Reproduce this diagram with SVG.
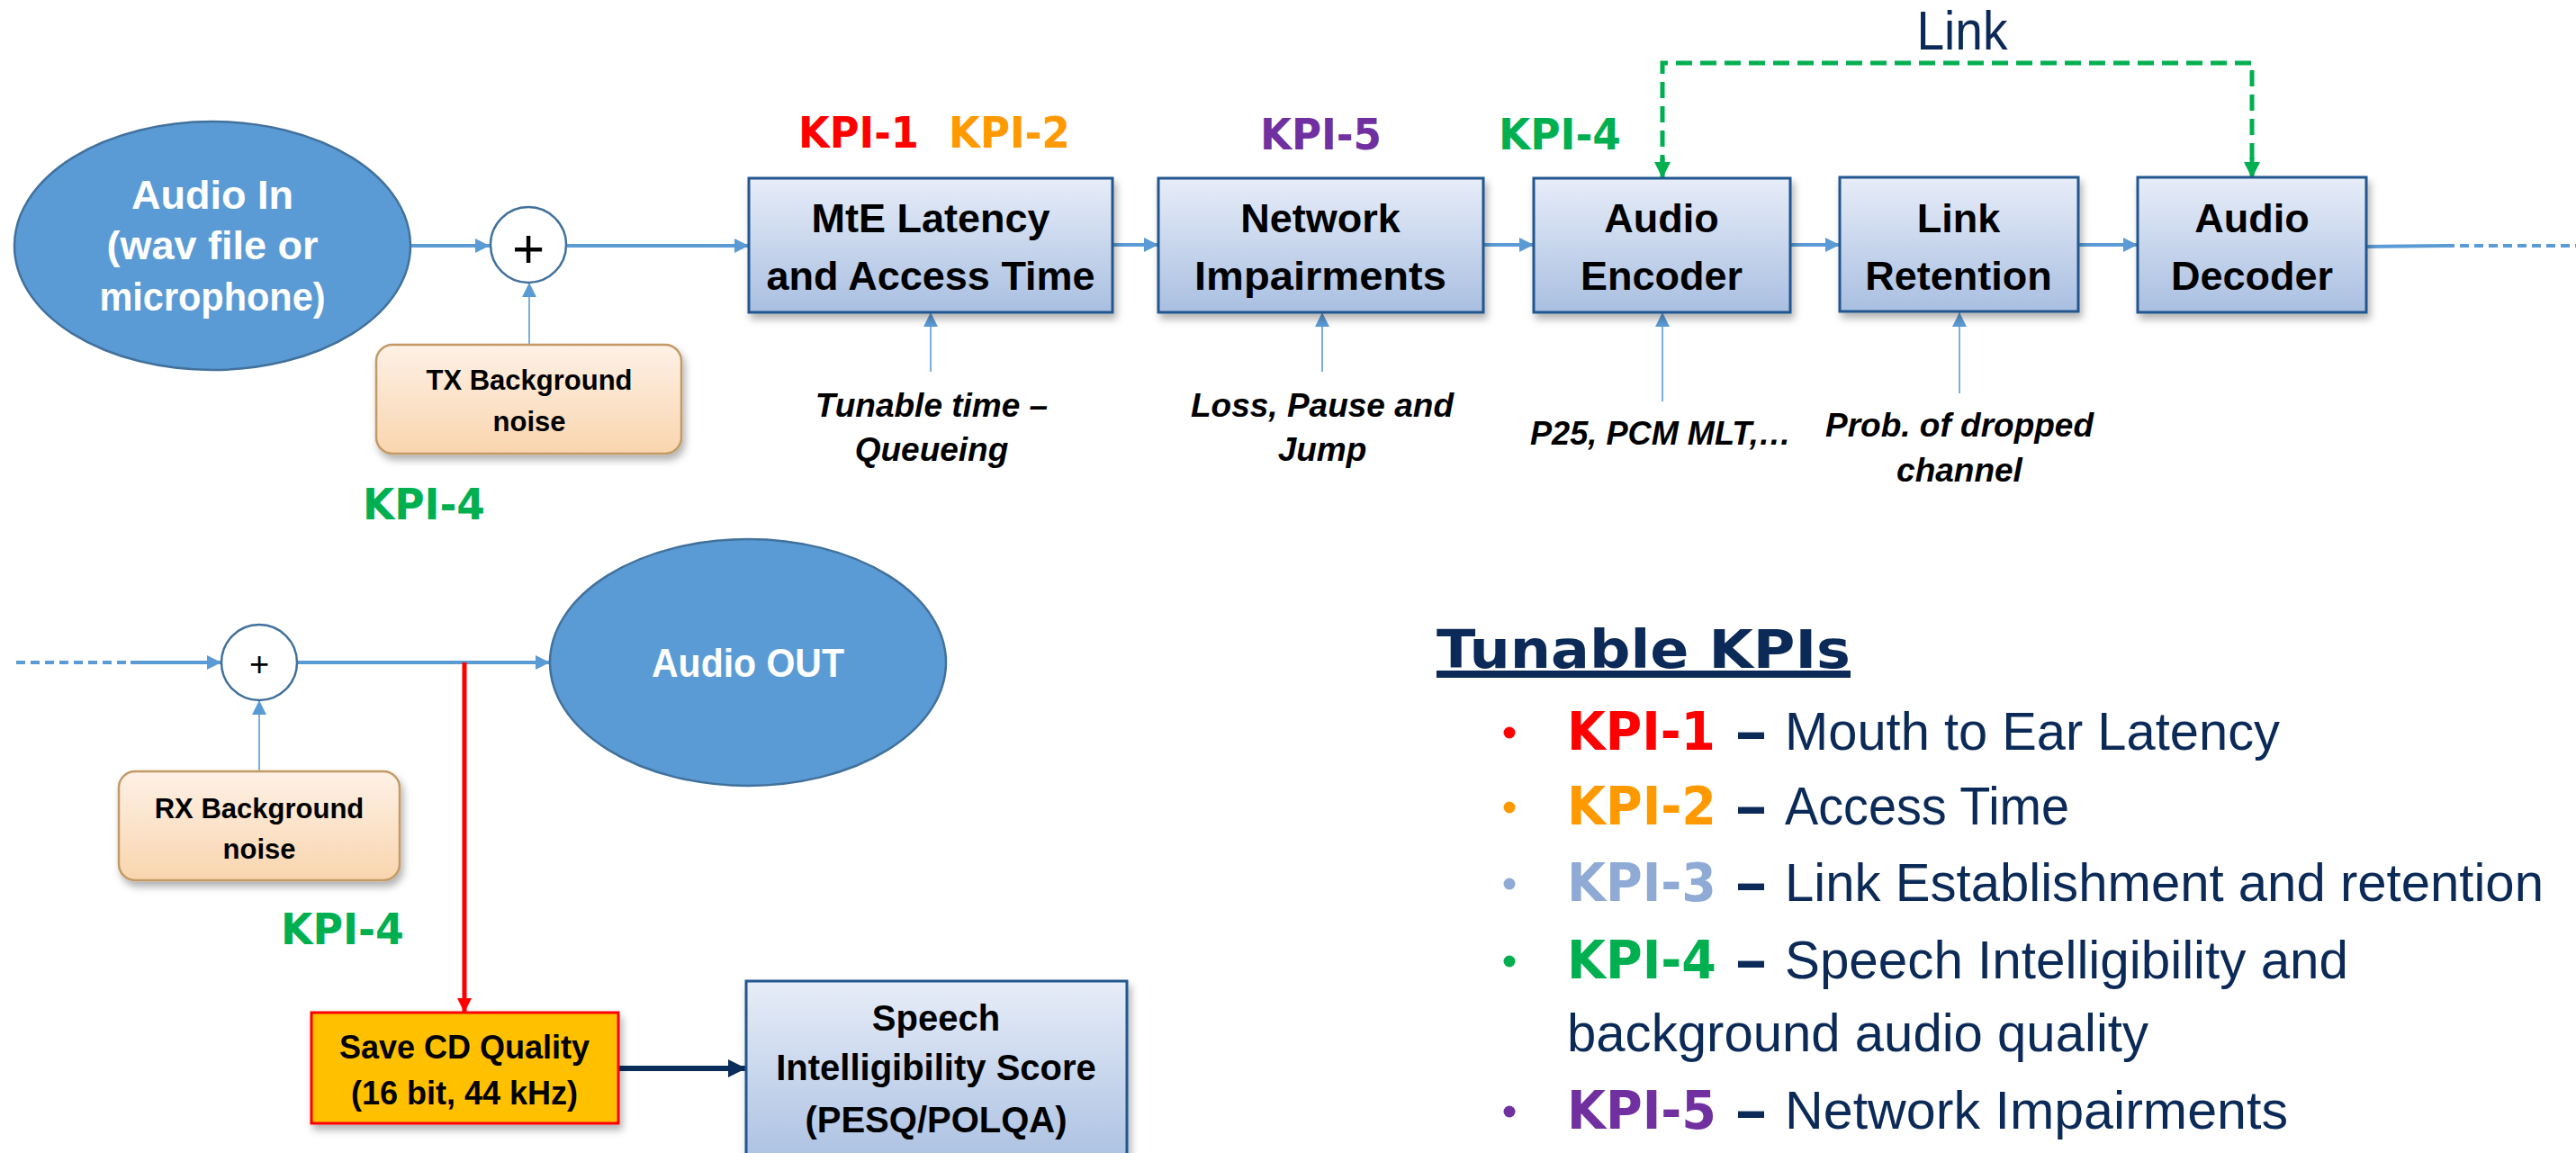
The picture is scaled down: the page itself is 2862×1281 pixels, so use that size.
<svg xmlns="http://www.w3.org/2000/svg" width="2862" height="1281" viewBox="0 0 2862 1281">
<defs>
<style>
.cal{font-family:"Liberation Sans",Arial,sans-serif;font-weight:bold;fill:#000;text-anchor:middle}
.lbl{font-size:45px}
.it{font-family:"Liberation Sans",Arial,sans-serif;font-weight:bold;font-style:italic;font-size:37px;fill:#000;text-anchor:middle}
.wh{fill:#fff}
.kpi{font-family:"DejaVu Sans",Verdana,sans-serif;font-weight:bold;font-size:48px}
.kpil{font-family:"DejaVu Sans",Verdana,sans-serif;font-weight:bold;font-size:58px}
.reg{font-family:"Liberation Sans",Arial,sans-serif;font-size:59px;fill:#0b2a57}
.box{fill:url(#gBlue);stroke:#24568f;stroke-width:3;filter:url(#sh)}
.peach{fill:url(#gPeach);stroke:#c39a66;stroke-width:2.5;filter:url(#sh)}
.ell{fill:#5b9bd5;stroke:#41719c;stroke-width:2.5}
.sum{fill:#fff;stroke:#41719c;stroke-width:2.5}
.flow{stroke:#5b9bd5;stroke-width:4;fill:none}
.thin{stroke:#5b9bd5;stroke-width:1.6;fill:none}
.c1{fill:#ff0000}.c2{fill:#ff9900}.c3{fill:#8eaad5}.c4{fill:#00b050}.c5{fill:#7030a0}
</style>
<linearGradient id="gBlue" x1="0" y1="0" x2="0" y2="1">
<stop offset="0" stop-color="#e7edf8"/><stop offset="1" stop-color="#a9bfe1"/>
</linearGradient>
<linearGradient id="gPeach" x1="0" y1="0" x2="0" y2="1">
<stop offset="0" stop-color="#fef1e6"/><stop offset="1" stop-color="#f9d5ae"/>
</linearGradient>
<filter id="sh" x="-10%" y="-10%" width="130%" height="140%">
<feDropShadow dx="3" dy="6" stdDeviation="4" flood-color="#000" flood-opacity="0.3"/>
</filter>
<marker id="aBl" viewBox="0 0 10 10" refX="10" refY="5" markerWidth="18" markerHeight="16" markerUnits="userSpaceOnUse" orient="auto">
<path d="M0,0 L10,5 L0,10 z" fill="#5b9bd5"/>
</marker>
<marker id="aG" viewBox="0 0 10 10" refX="10" refY="5" markerWidth="22" markerHeight="18" markerUnits="userSpaceOnUse" orient="auto">
<path d="M0,0 L10,5 L0,10 z" fill="#00b050"/>
</marker>
<marker id="aR" viewBox="0 0 10 10" refX="10" refY="5" markerWidth="20" markerHeight="16" markerUnits="userSpaceOnUse" orient="auto">
<path d="M0,0 L10,5 L0,10 z" fill="#ff0000"/>
</marker>
<marker id="aN" viewBox="0 0 10 10" refX="10" refY="5" markerWidth="20" markerHeight="22" markerUnits="userSpaceOnUse" orient="auto">
<path d="M0,0 L10,5 L0,10 z" fill="#0b2d5a"/>
</marker>
</defs>
<rect width="2862" height="1281" fill="#fff"/>

<g id="connectors">
<line class="flow" x1="456" y1="273" x2="544" y2="273" marker-end="url(#aBl)"/>
<line class="flow" x1="630" y1="273" x2="832" y2="273" stroke-width="3" marker-end="url(#aBl)"/>
<line class="flow" x1="1236" y1="272" x2="1287" y2="272" marker-end="url(#aBl)"/>
<line class="flow" x1="1648" y1="272" x2="1704" y2="272" marker-end="url(#aBl)"/>
<line class="flow" x1="1989" y1="272" x2="2044" y2="272" marker-end="url(#aBl)"/>
<line class="flow" x1="2309" y1="272" x2="2375" y2="272" marker-end="url(#aBl)"/>
<path class="flow" d="M2629,274 L2717,273"/>
<line class="flow" x1="2717" y1="273" x2="2862" y2="273" stroke-dasharray="10,6"/>
<line class="thin" x1="588" y1="383" x2="588" y2="314" marker-end="url(#aBl)"/>
<line class="thin" x1="1034" y1="413" x2="1034" y2="347" marker-end="url(#aBl)"/>
<line class="thin" x1="1469" y1="413" x2="1469" y2="347" marker-end="url(#aBl)"/>
<line class="thin" x1="1847" y1="446" x2="1847" y2="347" marker-end="url(#aBl)"/>
<line class="thin" x1="2177" y1="437" x2="2177" y2="347" marker-end="url(#aBl)"/>
<path d="M1847,190 L1847,70 L2502,70 L2502,190" fill="none" stroke="#00b050" stroke-width="5" stroke-dasharray="18,9"/>
<line x1="1847" y1="175" x2="1847" y2="198" stroke="#00b050" stroke-width="5" marker-end="url(#aG)"/>
<line x1="2502" y1="175" x2="2502" y2="198" stroke="#00b050" stroke-width="5" marker-end="url(#aG)"/>
<line class="flow" x1="18" y1="736" x2="145" y2="736" stroke-dasharray="10,6"/>
<line class="flow" x1="145" y1="736" x2="246" y2="736" marker-end="url(#aBl)"/>
<line class="flow" x1="330" y1="736" x2="611" y2="736" stroke-width="3" marker-end="url(#aBl)"/>
<line class="thin" x1="288" y1="857" x2="288" y2="778" marker-end="url(#aBl)"/>
<line x1="516" y1="736" x2="516" y2="1125" stroke="#ff0000" stroke-width="5" marker-end="url(#aR)"/>
<line x1="687" y1="1187" x2="829" y2="1187" stroke="#0b2d5a" stroke-width="6" marker-end="url(#aN)"/>
</g>

<g id="audio-in">
<ellipse class="ell" cx="236" cy="273" rx="220" ry="138"/>
<text class="cal wh lbl" x="236" y="232">Audio In</text>
<text class="cal wh lbl" x="236" y="288">(wav file or</text>
<text class="cal wh lbl" x="236" y="345" textLength="251" lengthAdjust="spacingAndGlyphs">microphone)</text>
</g>
<g id="sum-tx">
<circle class="sum" cx="587" cy="272" r="42"/>
<text x="587" y="297" font-family="Liberation Sans,Arial,sans-serif" font-size="62" text-anchor="middle" fill="#000">+</text>
</g>
<g id="tx-noise">
<rect class="peach" x="418" y="383" width="339" height="121" rx="18"/>
<text class="cal" x="588" y="433" font-size="31">TX Background</text>
<text class="cal" x="588" y="479" font-size="31">noise</text>
</g>
<g id="kpi4-tx"><text class="kpi c4" x="403" y="577" textLength="136" lengthAdjust="spacingAndGlyphs">KPI-4</text></g>

<g id="kpi-top">
<text class="kpi c1" x="887" y="164" textLength="134" lengthAdjust="spacingAndGlyphs">KPI-1</text>
<text class="kpi c2" x="1054" y="164" textLength="135" lengthAdjust="spacingAndGlyphs">KPI-2</text>
<text class="kpi c5" x="1400" y="166" textLength="135" lengthAdjust="spacingAndGlyphs">KPI-5</text>
<text class="kpi c4" x="1665" y="166" textLength="136" lengthAdjust="spacingAndGlyphs">KPI-4</text>
</g>

<g id="mte">
<rect class="box" x="832" y="198" width="404" height="149"/>
<text class="cal lbl" x="1034" y="258">MtE Latency</text>
<text class="cal lbl" x="1034" y="322">and Access Time</text>
</g>
<g id="network">
<rect class="box" x="1287" y="198" width="361" height="149"/>
<text class="cal lbl" x="1467" y="258">Network</text>
<text class="cal lbl" x="1467" y="322" textLength="280" lengthAdjust="spacingAndGlyphs">Impairments</text>
</g>
<g id="encoder">
<rect class="box" x="1704" y="198" width="285" height="149"/>
<text class="cal lbl" x="1846" y="258">Audio</text>
<text class="cal lbl" x="1846" y="322">Encoder</text>
</g>
<g id="retention">
<rect class="box" x="2044" y="197" width="265" height="149"/>
<text class="cal lbl" x="2176" y="258">Link</text>
<text class="cal lbl" x="2176" y="322">Retention</text>
</g>
<g id="decoder">
<rect class="box" x="2375" y="197" width="254" height="150"/>
<text class="cal lbl" x="2502" y="258">Audio</text>
<text class="cal lbl" x="2502" y="322">Decoder</text>
</g>
<g id="link-title"><text x="2180" y="55" font-family="Liberation Sans,Arial,sans-serif" font-size="61" fill="#0b2a57" text-anchor="middle" textLength="101" lengthAdjust="spacingAndGlyphs">Link</text></g>

<g id="notes">
<text class="it" x="1035" y="463">Tunable time –</text>
<text class="it" x="1035" y="512">Queueing</text>
<text class="it" x="1469" y="463">Loss, Pause and</text>
<text class="it" x="1469" y="512">Jump</text>
<text class="it" x="1845" y="494" textLength="290" lengthAdjust="spacingAndGlyphs">P25, PCM MLT,…</text>
<text class="it" x="2177" y="485">Prob. of dropped</text>
<text class="it" x="2177" y="535">channel</text>
</g>

<g id="sum-rx">
<circle class="sum" cx="288" cy="736" r="42"/>
<text x="288" y="751" font-family="Liberation Sans,Arial,sans-serif" font-size="38" text-anchor="middle" fill="#000">+</text>
</g>
<g id="audio-out">
<ellipse class="ell" cx="831" cy="736" rx="220" ry="137"/>
<text class="cal wh lbl" x="831" y="752" textLength="214" lengthAdjust="spacingAndGlyphs">Audio OUT</text>
</g>
<g id="rx-noise">
<rect class="peach" x="132" y="857" width="312" height="121" rx="18"/>
<text class="cal" x="288" y="909" font-size="31">RX Background</text>
<text class="cal" x="288" y="954" font-size="31">noise</text>
</g>
<g id="kpi4-rx"><text class="kpi c4" x="312" y="1049" textLength="137" lengthAdjust="spacingAndGlyphs">KPI-4</text></g>
<g id="save-cd">
<rect x="346" y="1125" width="341" height="123" fill="#ffc000" stroke="#ff0000" stroke-width="3" filter="url(#sh)"/>
<text class="cal" x="516" y="1176" font-size="36">Save CD Quality</text>
<text class="cal" x="516" y="1227" font-size="36">(16 bit, 44 kHz)</text>
</g>
<g id="speech">
<rect class="box" x="829" y="1090" width="423" height="210"/>
<text class="cal" x="1040" y="1145" font-size="40">Speech</text>
<text class="cal" x="1040" y="1200" font-size="40">Intelligibility Score</text>
<text class="cal" x="1040" y="1258" font-size="40">(PESQ/POLQA)</text>
</g>

<g id="legend">
<text class="kpil" x="1596" y="742" fill="#0b2a57" font-size="74" textLength="460" lengthAdjust="spacingAndGlyphs">Tunable KPIs</text>
<rect x="1596" y="745" width="460" height="8" fill="#0b2a57"/>
<circle cx="1677" cy="814" r="6.5" class="c1"/>
<text class="kpil c1" x="1741" y="833" textLength="165" lengthAdjust="spacingAndGlyphs">KPI-1</text>
<text class="kpil" x="1927" y="833" fill="#0b2a57" textLength="37" lengthAdjust="spacingAndGlyphs">–</text>
<text class="reg" x="1983" y="833" textLength="550" lengthAdjust="spacingAndGlyphs">Mouth to Ear Latency</text>
<circle cx="1677" cy="897" r="6.5" class="c2"/>
<text class="kpil c2" x="1741" y="916" textLength="166" lengthAdjust="spacingAndGlyphs">KPI-2</text>
<text class="kpil" x="1927" y="916" fill="#0b2a57" textLength="37" lengthAdjust="spacingAndGlyphs">–</text>
<text class="reg" x="1983" y="916" textLength="316" lengthAdjust="spacingAndGlyphs">Access Time</text>
<circle cx="1677" cy="982" r="6.5" class="c3"/>
<text class="kpil c3" x="1741" y="1001" textLength="166" lengthAdjust="spacingAndGlyphs">KPI-3</text>
<text class="kpil" x="1927" y="1001" fill="#0b2a57" textLength="37" lengthAdjust="spacingAndGlyphs">–</text>
<text class="reg" x="1983" y="1001" textLength="843" lengthAdjust="spacingAndGlyphs">Link Establishment and retention</text>
<circle cx="1677" cy="1068" r="6.5" class="c4"/>
<text class="kpil c4" x="1741" y="1087" textLength="166" lengthAdjust="spacingAndGlyphs">KPI-4</text>
<text class="kpil" x="1927" y="1087" fill="#0b2a57" textLength="37" lengthAdjust="spacingAndGlyphs">–</text>
<text class="reg" x="1983" y="1087" textLength="626" lengthAdjust="spacingAndGlyphs">Speech Intelligibility and</text>
<text class="reg" x="1741" y="1168" textLength="646" lengthAdjust="spacingAndGlyphs">background audio quality</text>
<circle cx="1677" cy="1235" r="6.5" class="c5"/>
<text class="kpil c5" x="1741" y="1254" textLength="166" lengthAdjust="spacingAndGlyphs">KPI-5</text>
<text class="kpil" x="1927" y="1254" fill="#0b2a57" textLength="37" lengthAdjust="spacingAndGlyphs">–</text>
<text class="reg" x="1983" y="1254" textLength="559" lengthAdjust="spacingAndGlyphs">Network Impairments</text>
</g>
</svg>
